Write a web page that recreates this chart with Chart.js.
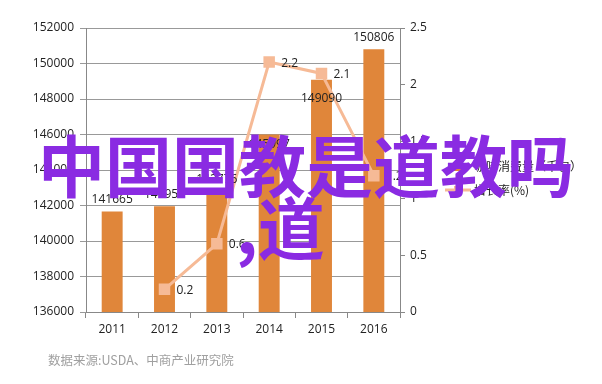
<!DOCTYPE html>
<html>
<head>
<meta charset="utf-8">
<script src="https://cdn.jsdelivr.net/npm/chart.js@4"></script>
<style>
  html, body { margin: 0; padding: 0; background: #fff; }
  #wrap { width: 602px; height: 384px; }
</style>
</head>
<body>
<div id="wrap"><canvas id="grafico" width="602" height="384"></canvas></div>
<script>
// dados
const categories = ['2011', '2012', '2013', '2014', '2015', '2016'];
const consumption = [141665, 141951, 142776, 145997, 149090, 150806];
const growth = [null, 0.2, 0.6, 2.2, 2.1, 1.2];
const leftTicks = [136000, 138000, 140000, 142000, 144000, 146000, 148000, 150000, 152000];
const rightTicks = [0, 0.5, 1, 1.5, 2, 2.5];
const legendLabels = ['咖啡消费量（千包）', '增长率(%)'];
const sourceText = '数据来源:USDA、中商产业研究院';
const overlayText = ['中国国教是道教吗', ',道'];

const barColor = 'rgb(224, 134, 58)';
const lineColor = 'rgb(246, 186, 150)';
const labelFont = '12px "Open Sans"';

// where each bar label goes, relative to the bar top
const barLabelShift = [-12, -12, -12, 10, 19, -12];

const extras = {
    id: 'extras',
    afterDatasetsDraw(chart) {
        const ctx = chart.ctx;
        ctx.save();
        ctx.font = labelFont;
        ctx.fillStyle = '#222';
        ctx.textBaseline = 'middle';

        // bar values
        ctx.textAlign = 'center';
        chart.getDatasetMeta(0).data.forEach((bar, i) => {
            ctx.fillText(String(consumption[i]), bar.x, bar.y + barLabelShift[i]);
        });

        // growth values
        ctx.textAlign = 'left';
        chart.getDatasetMeta(1).data.forEach((pt, i) => {
            if (growth[i] === null) return;
            ctx.fillText(String(growth[i]), pt.x + 12, pt.y + 1);
        });

        // legend
        const lx = 445, ly = [166, 190];
        ctx.fillStyle = barColor;
        ctx.fillRect(lx + 8, ly[0] - 4, 9, 9);
        ctx.strokeStyle = lineColor;
        ctx.lineWidth = 3;
        ctx.beginPath();
        ctx.moveTo(lx, ly[1]);
        ctx.lineTo(lx + 26, ly[1]);
        ctx.stroke();
        ctx.fillStyle = lineColor;
        ctx.fillRect(lx + 9, ly[1] - 4, 8, 8);
        ctx.fillStyle = '#222';
        ctx.font = '12px "Noto Sans CJK SC"';
        legendLabels.forEach((t, i) => ctx.fillText(t, lx + 29, ly[i]));

        // fonte
        ctx.fillStyle = '#a0a0a0';
        ctx.font = '12.5px "Noto Sans CJK SC"';
        ctx.fillText(sourceText, 48, 360);

        // texto sobreposto
        ctx.fillStyle = '#8a2be2';
        ctx.font = 'bold 67px "Noto Sans CJK SC"';
        ctx.fillText(overlayText[0], 38, 167);
        ctx.fillText(overlayText[1], 236, 229);
        ctx.restore();
    }
};

const ctx = document.getElementById('grafico');
const grafico = new Chart(ctx, {
    data: {
        labels: categories,
        datasets: [{
            type: 'bar',
            label: legendLabels[0],
            data: consumption,
            backgroundColor: barColor,
            yAxisID: 'y',
            barPercentage: 0.8,
            categoryPercentage: 0.5,
            order: 2
        }, {
            type: 'line',
            label: legendLabels[1],
            data: growth,
            borderColor: lineColor,
            backgroundColor: lineColor,
            borderWidth: 3,
            pointStyle: 'rect',
            pointRadius: 6,
            tension: 0,
            yAxisID: 'y1',
            order: 1
        }]
    },
    options: {
        responsive: false,
        animation: false,
        layout: { padding: { top: 28, bottom: 40, left: 0, right: 0 } },
        plugins: {
            legend: { display: false },
            tooltip: { enabled: false }
        },
        scales: {
            x: {
                grid: { drawOnChartArea: false, offset: true, tickLength: 6, color: '#888' },
                border: { color: '#888' },
                ticks: { color: '#222', font: { family: 'Open Sans', size: 12 }, padding: 4 },
                afterFit: s => { s.height = 32; }
            },
            y: {
                position: 'left',
                min: leftTicks[0],
                max: leftTicks[leftTicks.length - 1],
                afterBuildTicks: s => { s.ticks = leftTicks.map(v => ({ value: v })); },
                grid: { color: '#999', tickLength: 6 },
                border: { color: '#888' },
                ticks: { color: '#222', font: { family: 'Open Sans', size: 12 }, padding: 6, callback: v => String(v) },
                afterFit: s => { s.width = 86; }
            },
            y1: {
                position: 'right',
                min: rightTicks[0],
                max: rightTicks[rightTicks.length - 1],
                afterBuildTicks: s => { s.ticks = rightTicks.map(v => ({ value: v })); },
                grid: { drawOnChartArea: false, color: '#888', tickLength: 5 },
                border: { color: '#888' },
                ticks: { color: '#222', font: { family: 'Open Sans', size: 12 }, padding: 5, callback: v => String(v) },
                afterFit: s => { s.width = 202; }
            }
        }
    },
    plugins: [extras]
});
</script>
</body>
</html>
